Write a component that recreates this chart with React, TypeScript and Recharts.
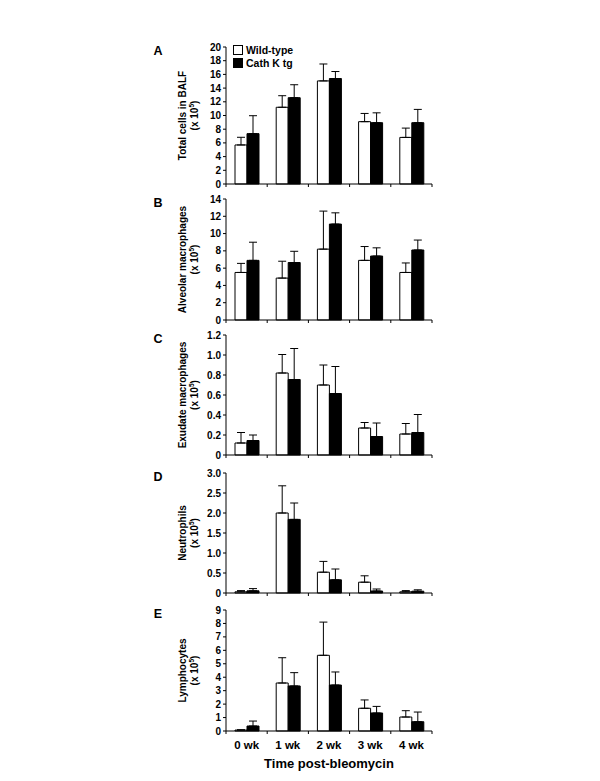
import React from 'react';
import { BarChart, Bar, XAxis, YAxis, ErrorBar, Legend } from 'recharts';

const CATEGORIES = ['0 wk', '1 wk', '2 wk', '3 wk', '4 wk'];

const totalWT = [5.7, 11.2, 15.05, 9.1, 6.8];
const totalWTErr = [1.12, 1.69, 2.47, 1.2, 1.36];
const totalKT = [7.35, 12.6, 15.4, 8.95, 8.95];
const totalKTErr = [2.62, 1.89, 1.02, 1.44, 1.94];

const alvWT = [5.5, 4.85, 8.2, 6.9, 5.5];
const alvWTErr = [1.05, 1.95, 4.4, 1.6, 1.1];
const alvKT = [6.9, 6.65, 11.1, 7.4, 8.1];
const alvKTErr = [2.1, 1.3, 1.3, 0.95, 1.15];

const exuWT = [0.12, 0.82, 0.7, 0.27, 0.21];
const exuWTErr = [0.105, 0.185, 0.2, 0.055, 0.105];
const exuKT = [0.145, 0.755, 0.615, 0.185, 0.225];
const exuKTErr = [0.055, 0.31, 0.27, 0.135, 0.18];

const neuWT = [0.03, 2.0, 0.52, 0.27, 0.03];
const neuWTErr = [0.03, 0.68, 0.27, 0.16, 0.03];
const neuKT = [0.055, 1.84, 0.33, 0.05, 0.045];
const neuKTErr = [0.055, 0.41, 0.27, 0.05, 0.035];

const lymWT = [0.07, 3.57, 5.63, 1.69, 1.04];
const lymWTErr = [0.02, 1.88, 2.47, 0.62, 0.47];
const lymKT = [0.37, 3.35, 3.42, 1.34, 0.69];
const lymKTErr = [0.37, 0.99, 0.97, 0.49, 0.72];

const ticksA = [0, 2, 4, 6, 8, 10, 12, 14, 16, 18, 20];
const ticksB = [0, 2, 4, 6, 8, 10, 12, 14];
const ticksC = [0, 0.2, 0.4, 0.6, 0.8, 1.0, 1.2];
const ticksD = [0, 0.5, 1.0, 1.5, 2.0, 2.5, 3.0];
const ticksE = [0, 1, 2, 3, 4, 5, 6, 7, 8, 9];

const SERIES_NAMES = ['Wild-type', 'Cath K tg'];
const X_TITLE = 'Time post-bleomycin';

const FONT = 'Arial, "Liberation Sans", Helvetica, sans-serif';
const PLOT_LEFT = 226;
const PLOT_RIGHT = 432;
const CHART_W = 600;
const YAXIS_W = 40;
const MARGIN_TOP = 15;
const BAND = (PLOT_RIGHT - PLOT_LEFT) / CATEGORIES.length;

function buildRows(wt: number[], wtErr: number[], kt: number[], ktErr: number[]) {
  return CATEGORIES.map((cat, i) => ({
    cat,
    wt: wt[i],
    wtErr: [0, wtErr[i]],
    kt: kt[i],
    ktErr: [0, ktErr[i]],
  }));
}

const intFmt = (v: number) => String(v);
const decFmt = (v: number) => (v === 0 ? '0' : v.toFixed(1));

type PanelProps = {
  letter: string;
  title: string;
  rows: any[];
  ticks: number[];
  fmt: (v: number) => string;
  plotTop: number;
  plotH: number;
  showX?: boolean;
  showLegend?: boolean;
};

const LegendContent = () => (
  <div style={{ fontFamily: FONT, fontWeight: 700, fontSize: 10.5, color: '#000', lineHeight: '12.5px' }}>
    {SERIES_NAMES.map((n, i) => (
      <div key={n} style={{ display: 'flex', alignItems: 'center', height: 12.5 }}>
        <span
          style={{
            display: 'inline-block',
            width: 8,
            height: 8,
            border: '1px solid #000',
            background: i === 0 ? '#fff' : '#000',
            marginRight: 3,
          }}
        />
        <span>{n}</span>
      </div>
    ))}
  </div>
);

function Panel({ letter, title, rows, ticks, fmt, plotTop, plotH, showX, showLegend }: PanelProps) {
  const xh = showX ? 50 : 10;
  const h = MARGIN_TOP + plotH + xh;
  const top = plotTop - MARGIN_TOP;
  const max = ticks[ticks.length - 1];

  const xTick = (props: any) => {
    const { x, y, payload, index } = props;
    const half = BAND / 2;
    return (
      <g>
        <line x1={x + half} y1={y} x2={x + half} y2={y + 3} stroke="#000" strokeWidth={1} />
        {index === 0 && <line x1={x - half} y1={y} x2={x - half} y2={y + 3} stroke="#000" strokeWidth={1} />}
        {showX && (
          <text x={x} y={y + 18} textAnchor="middle" fontFamily={FONT} fontWeight={700} fontSize={11.5} fill="#000">
            {payload.value}
          </text>
        )}
      </g>
    );
  };

  const yTitle = () => {
    const cy = MARGIN_TOP + plotH / 2;
    return (
      <g fontFamily={FONT} fontWeight={700} fill="#000">
        <text x={158} y={MARGIN_TOP + 8} textAnchor="middle" fontSize={12.5}>
          {letter}
        </text>
        <text x={182} y={cy} textAnchor="middle" dominantBaseline="central" fontSize={10} transform={`rotate(-90 182 ${cy})`}>
          {title}
        </text>
        <text x={194} y={cy} textAnchor="middle" dominantBaseline="central" fontSize={10} transform={`rotate(-90 194 ${cy})`}>
          (x 10<tspan dy={-3.5} fontSize={6.5}>5</tspan><tspan dy={3.5}>)</tspan>
        </text>
      </g>
    );
  };

  const xTitle = (props: any) => {
    const vb = props.viewBox || {};
    const cx = (PLOT_LEFT + PLOT_RIGHT) / 2;
    return (
      <text x={cx} y={(vb.y || 0) + 37} textAnchor="middle" fontFamily={FONT} fontWeight={700} fontSize={13} fill="#000">
        {X_TITLE}
      </text>
    );
  };

  return (
    <div style={{ position: 'absolute', left: 0, top }}>
      <BarChart
        width={CHART_W}
        height={h}
        data={rows}
        barSize={12}
        barGap={0}
        barCategoryGap={0}
        margin={{ top: MARGIN_TOP, right: CHART_W - PLOT_RIGHT, bottom: 0, left: PLOT_LEFT - YAXIS_W }}
      >
        <XAxis
          dataKey="cat"
          height={xh}
          axisLine={{ stroke: '#000', strokeWidth: 1 }}
          tickLine={false}
          tickSize={0}
          tickMargin={0}
          interval={0}
          tick={xTick}
          label={showX ? { content: xTitle } : undefined}
        />
        <YAxis
          type="number"
          width={YAXIS_W}
          domain={[0, max]}
          ticks={ticks}
          interval={0}
          tickFormatter={fmt}
          axisLine={{ stroke: '#000', strokeWidth: 1 }}
          tickLine={{ stroke: '#000', strokeWidth: 1 }}
          tickSize={3}
          tickMargin={2}
          tick={{ fontFamily: FONT, fontWeight: 700, fontSize: 10, fill: '#000' }}
          label={{ content: yTitle }}
        />
        {showLegend && (
          <Legend
            layout="vertical"
            align="center"
            verticalAlign="middle"
            content={LegendContent}
            wrapperStyle={{ left: 233, top: 45 - top - 1, width: 'auto', height: 'auto' }}
          />
        )}
        <Bar dataKey="wt" name={SERIES_NAMES[0]} fill="#fff" stroke="#000" strokeWidth={1} isAnimationActive={false}>
          <ErrorBar dataKey="wtErr" width={4} stroke="#000" strokeWidth={1} direction="y" />
        </Bar>
        <Bar dataKey="kt" name={SERIES_NAMES[1]} fill="#000" stroke="#000" strokeWidth={1} isAnimationActive={false}>
          <ErrorBar dataKey="ktErr" width={4} stroke="#000" strokeWidth={1} direction="y" />
        </Bar>
      </BarChart>
    </div>
  );
}

export default function App() {
  return (
    <div style={{ position: 'absolute', left: 0, top: 0, width: 600, height: 781, background: '#fff' }}>
      <Panel letter="A" title="Total cells in BALF" rows={buildRows(totalWT, totalWTErr, totalKT, totalKTErr)} ticks={ticksA} fmt={intFmt} plotTop={47} plotH={137} showLegend />
      <Panel letter="B" title="Alveolar macrophages" rows={buildRows(alvWT, alvWTErr, alvKT, alvKTErr)} ticks={ticksB} fmt={intFmt} plotTop={199} plotH={121} />
      <Panel letter="C" title="Exudate macrophages" rows={buildRows(exuWT, exuWTErr, exuKT, exuKTErr)} ticks={ticksC} fmt={decFmt} plotTop={335} plotH={120} />
      <Panel letter="D" title="Neutrophils" rows={buildRows(neuWT, neuWTErr, neuKT, neuKTErr)} ticks={ticksD} fmt={decFmt} plotTop={473} plotH={120} />
      <Panel letter="E" title="Lymphocytes" rows={buildRows(lymWT, lymWTErr, lymKT, lymKTErr)} ticks={ticksE} fmt={intFmt} plotTop={610} plotH={121} showX />
    </div>
  );
}
